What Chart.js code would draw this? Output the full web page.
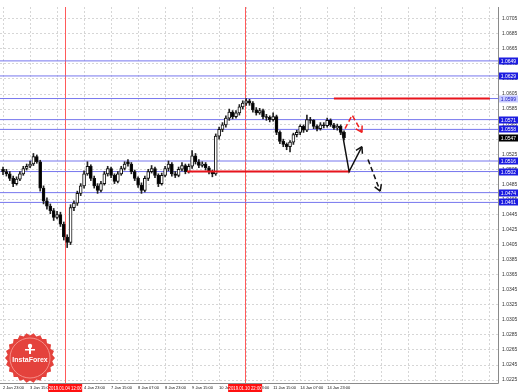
<!DOCTYPE html>
<html>
<head>
<meta charset="utf-8">
<script src="https://cdn.jsdelivr.net/npm/chart.js@4"></script>
<style>
html, body { margin: 0; padding: 0; background: #fff; }
#wrap { width: 519px; height: 392px; }
</style>
</head>
<body>
<div id="wrap"><canvas id="chart" width="519" height="392"></canvas></div>
<script>
// 2h candles, index 0 = 2 Jan 23:00
var opens = [
    1.0505, 1.0502, 1.0499, 1.0493, 1.0486, 1.0492, 1.0499, 1.0506, 1.0509, 1.0512,
    1.0522, 1.0515, 1.0480, 1.0463, 1.0456, 1.0450, 1.0441, 1.0445, 1.0432, 1.0415,
    1.0408, 1.0454, 1.0460, 1.0473, 1.0483, 1.0499, 1.0509, 1.0493, 1.0483, 1.0477,
    1.0486, 1.0499, 1.0506, 1.0497, 1.0489, 1.0499, 1.0506, 1.0515, 1.0512, 1.0502,
    1.0493, 1.0484, 1.0477, 1.0493, 1.0502, 1.0506, 1.0497, 1.0486, 1.0497, 1.0506,
    1.0512, 1.0499, 1.0497, 1.0505, 1.0510, 1.0502, 1.0509, 1.0523, 1.0515, 1.0510,
    1.0512, 1.0507, 1.0502, 1.0499, 1.0549, 1.0558, 1.0564, 1.0573, 1.0581, 1.0575,
    1.0580, 1.0588, 1.0593, 1.0596, 1.0593, 1.0584, 1.0580, 1.0583, 1.0575, 1.0574,
    1.0571, 1.0575, 1.0554, 1.0542, 1.0538, 1.0535, 1.0541, 1.0551, 1.0554, 1.0562,
    1.0557, 1.0571, 1.0570, 1.0562, 1.0559, 1.0564, 1.0563, 1.0570, 1.0564, 1.0560,
    1.0562, 1.0554
];
var highs = [
    1.0508, 1.0505, 1.0502, 1.0496, 1.0495, 1.0502, 1.0509, 1.0512, 1.0516, 1.0526,
    1.0524, 1.0517, 1.0483, 1.0467, 1.0459, 1.0453, 1.0449, 1.0448, 1.0435, 1.0418,
    1.0458, 1.0463, 1.0476, 1.0486, 1.0503, 1.0515, 1.0511, 1.0496, 1.0486, 1.0489,
    1.0502, 1.0509, 1.0508, 1.0499, 1.0502, 1.0509, 1.0515, 1.0518, 1.0514, 1.0504,
    1.0495, 1.0487, 1.0496, 1.0505, 1.0510, 1.0508, 1.0499, 1.0500, 1.0509, 1.0516,
    1.0514, 1.0502, 1.0508, 1.0514, 1.0512, 1.0512, 1.0530, 1.0526, 1.0518, 1.0515,
    1.0514, 1.0509, 1.0504, 1.0552, 1.0561, 1.0567, 1.0576, 1.0585, 1.0583, 1.0583,
    1.0591, 1.0596, 1.0599, 1.0598, 1.0595, 1.0587, 1.0586, 1.0585, 1.0578, 1.0576,
    1.0580, 1.0577, 1.0556, 1.0545, 1.0540, 1.0543, 1.0553, 1.0557, 1.0564, 1.0564,
    1.0577, 1.0574, 1.0571, 1.0564, 1.0567, 1.0567, 1.0573, 1.0572, 1.0566, 1.0565,
    1.0564, 1.0556
];
var lows = [
    1.0498, 1.0496, 1.0490, 1.0482, 1.0484, 1.0490, 1.0497, 1.0504, 1.0507, 1.0510,
    1.0513, 1.0476, 1.0459, 1.0452, 1.0446, 1.0437, 1.0439, 1.0429, 1.0411, 1.0401,
    1.0405, 1.0450, 1.0457, 1.0470, 1.0480, 1.0497, 1.0490, 1.0480, 1.0473, 1.0475,
    1.0484, 1.0496, 1.0494, 1.0486, 1.0487, 1.0497, 1.0504, 1.0509, 1.0499, 1.0490,
    1.0481, 1.0473, 1.0475, 1.0490, 1.0500, 1.0494, 1.0482, 1.0484, 1.0495, 1.0503,
    1.0496, 1.0494, 1.0495, 1.0503, 1.0499, 1.0500, 1.0506, 1.0512, 1.0507, 1.0508,
    1.0504, 1.0499, 1.0495, 1.0497, 1.0545, 1.0555, 1.0561, 1.0570, 1.0572, 1.0573,
    1.0577, 1.0585, 1.0590, 1.0590, 1.0581, 1.0577, 1.0578, 1.0572, 1.0570, 1.0568,
    1.0569, 1.0551, 1.0539, 1.0535, 1.0531, 1.0528, 1.0538, 1.0548, 1.0551, 1.0554,
    1.0555, 1.0566, 1.0559, 1.0556, 1.0557, 1.0560, 1.0561, 1.0562, 1.0558, 1.0557,
    1.0551, 1.0544
];
var closes = [
    1.0502, 1.0499, 1.0493, 1.0486, 1.0492, 1.0499, 1.0506, 1.0509, 1.0512, 1.0522,
    1.0515, 1.0480, 1.0463, 1.0456, 1.0450, 1.0441, 1.0445, 1.0432, 1.0415, 1.0408,
    1.0454, 1.0460, 1.0473, 1.0483, 1.0499, 1.0509, 1.0493, 1.0483, 1.0477, 1.0486,
    1.0499, 1.0506, 1.0497, 1.0489, 1.0499, 1.0506, 1.0512, 1.0512, 1.0502, 1.0493,
    1.0484, 1.0477, 1.0493, 1.0502, 1.0506, 1.0497, 1.0486, 1.0497, 1.0506, 1.0512,
    1.0499, 1.0497, 1.0505, 1.0510, 1.0502, 1.0509, 1.0523, 1.0515, 1.0510, 1.0512,
    1.0507, 1.0502, 1.0499, 1.0549, 1.0558, 1.0564, 1.0573, 1.0581, 1.0575, 1.0580,
    1.0588, 1.0593, 1.0596, 1.0593, 1.0584, 1.0580, 1.0583, 1.0575, 1.0574, 1.0571,
    1.0575, 1.0554, 1.0542, 1.0538, 1.0535, 1.0541, 1.0551, 1.0554, 1.0562, 1.0557,
    1.0571, 1.0570, 1.0562, 1.0559, 1.0564, 1.0563, 1.0570, 1.0564, 1.0560, 1.0562,
    1.0554, 1.0547
];

var gridBars = [0, 8, 16, 24, 32, 40, 48, 56, 64, 72, 80, 88, 96, 104, 112, 120, 128, 136, 144];
var xTickLabels = ['2 Jan 23:00', '3 Jan 15:00', '4 Jan 07:00', '4 Jan 23:00', '7 Jan 15:00',
    '8 Jan 07:00', '8 Jan 23:00', '9 Jan 15:00', '10 Jan 07:00', '10 Jan 23:00',
    '11 Jan 15:00', '14 Jan 07:00', '14 Jan 23:00'];
var yTicks = [1.0225, 1.0245, 1.0265, 1.0285, 1.0305, 1.0325, 1.0345, 1.0365, 1.0385,
    1.0405, 1.0425, 1.0445, 1.0465, 1.0485, 1.0505, 1.0525, 1.0545, 1.0565, 1.0585,
    1.0605, 1.0625, 1.0645, 1.0665, 1.0685, 1.0705];

var levels = [1.0649, 1.0629, 1.0599, 1.0571, 1.0558, 1.0516, 1.0502, 1.0474, 1.0461];
var lastPrice = 1.0547;
var markerBars = [18.4, 71.7];
var markerLabels = ['2019.01.04 12:00', '2019.01.10 22:00'];

var resistX = [98, 144.2], resistY = [1.0599, 1.0599];
var supportX = [54.5, 102.8], supportY = [1.0502, 1.0502];
var solidArrowX = [100.4, 102.5, 106.3], solidArrowY = [1.0555, 1.0502, 1.0535];
var dashArrowX = [108.1, 111.7], dashArrowY = [1.0518, 1.0476];
var redArrowX = [101.3, 103.4, 106.3], redArrowY = [1.0559, 1.0577, 1.0554];

var X_MIN = -0.9, X_MAX = 146.6;

function pts(xs, ys) {
    return xs.map(function (x, i) { return {x: x, y: ys[i]}; });
}

var bodies = closes.map(function (c, i) { return {x: i, y: [opens[i], c]}; });
var wicks = closes.map(function (c, i) { return {x: i, y: [lows[i], highs[i]]}; });
var bodyFill = closes.map(function (c, i) { return c >= opens[i] ? '#ffffff' : '#000000'; });

var datasets = [];
levels.forEach(function (p) {
    datasets.push({
        type: 'line', data: pts([X_MIN, X_MAX], [p, p]),
        borderColor: '#7676ee', borderWidth: 1, pointRadius: 0, order: 5
    });
});
datasets.push({
    type: 'bar', data: wicks, backgroundColor: '#222', barThickness: 1,
    grouped: false, order: 3
});
datasets.push({
    type: 'bar', data: bodies, backgroundColor: bodyFill, borderColor: '#111',
    borderWidth: 1, borderSkipped: false, barThickness: 3, grouped: false, order: 2
});
datasets.push({
    type: 'line', data: pts(resistX, resistY), borderColor: '#e8141c',
    borderWidth: 2, pointRadius: 0, order: 1
});
datasets.push({
    type: 'line', data: pts(supportX, supportY), borderColor: '#e8141c',
    borderWidth: 2, pointRadius: 0, order: 1
});
datasets.push({
    type: 'line', data: pts(solidArrowX, solidArrowY), borderColor: '#111',
    borderWidth: 1.5, pointRadius: 0, order: 0, arrow: true
});
datasets.push({
    type: 'line', data: pts(dashArrowX, dashArrowY), borderColor: '#111',
    borderWidth: 1.5, borderDash: [5, 3], pointRadius: 0, order: 0, arrow: true
});
datasets.push({
    type: 'line', data: pts(redArrowX, redArrowY), borderColor: '#ee2020',
    borderWidth: 1.5, borderDash: [5, 3], pointRadius: 0, order: 0, arrow: true
});

function box(ctx, x, y, w, h, fill, text, color, font) {
    ctx.fillStyle = fill;
    ctx.fillRect(x, y, w, h);
    ctx.fillStyle = color;
    ctx.font = font;
    ctx.textAlign = 'center';
    ctx.textBaseline = 'middle';
    ctx.fillText(text, x + w / 2, y + h / 2 + 0.5, w - 1);
}

var overlay = {
    id: 'overlay',
    beforeDatasetsDraw: function (chart) {
        var ctx = chart.ctx, a = chart.chartArea, xs = chart.scales.x;
        ctx.save();
        ctx.fillStyle = '#ff5a5a';
        markerBars.forEach(function (b) {
            var px = Math.round(xs.getPixelForValue(b));
            ctx.fillRect(px, a.top, 1, a.bottom - a.top);
        });
        ctx.restore();
    },
    afterDatasetsDraw: function (chart) {
        var ctx = chart.ctx;
        chart.data.datasets.forEach(function (ds, i) {
            if (!ds.arrow) return;
            var p = chart.getDatasetMeta(i).data;
            var p1 = p[p.length - 2], p2 = p[p.length - 1];
            var ang = Math.atan2(p2.y - p1.y, p2.x - p1.x);
            ctx.save();
            ctx.strokeStyle = ds.borderColor;
            ctx.lineWidth = 1.5;
            ctx.beginPath();
            [ang + 2.6, ang - 2.6].forEach(function (t) {
                ctx.moveTo(p2.x, p2.y);
                ctx.lineTo(p2.x + 7 * Math.cos(t), p2.y + 7 * Math.sin(t));
            });
            ctx.stroke();
            ctx.restore();
        });
    },
    afterDraw: function (chart) {
        var ctx = chart.ctx, a = chart.chartArea;
        var xs = chart.scales.x, ys = chart.scales.y;
        ctx.save();
        // frame
        ctx.strokeStyle = '#8a8a8a';
        ctx.lineWidth = 1;
        ctx.beginPath();
        ctx.moveTo(a.right + 0.5, a.top);
        ctx.lineTo(a.right + 0.5, a.bottom + 0.5);
        ctx.lineTo(a.left, a.bottom + 0.5);
        ctx.stroke();

        var f = '5px "Liberation Sans"';
        levels.forEach(function (p) {
            var py = ys.getPixelForValue(p);
            var light = p === 1.0599;
            box(ctx, a.right + 1, Math.round(py) - 3.5, 19, 7,
                light ? '#c6c9ff' : '#1c1ce0', p.toFixed(4), light ? '#2020c0' : '#fff', f);
        });
        box(ctx, a.right + 1, Math.round(ys.getPixelForValue(lastPrice)) - 3.5, 19, 7,
            '#000', lastPrice.toFixed(4), '#fff', f);

        markerBars.forEach(function (b, i) {
            var px = xs.getPixelForValue(b);
            box(ctx, px - 17, a.bottom + 1, 34, 8, '#ff1010', markerLabels[i], '#fff', '4.5px "Liberation Sans"');
        });

        // InstaForex badge
        var cx = 30, cy = 358, r = 25, n = 22;
        ctx.beginPath();
        for (var k = 0; k <= n * 2; k++) {
            var t = k * Math.PI / n, rr = k % 2 ? r - 2.5 : r;
            ctx.lineTo(cx + rr * Math.cos(t), cy + rr * Math.sin(t));
        }
        ctx.closePath();
        ctx.fillStyle = '#e4423c';
        ctx.fill();
        ctx.beginPath();
        ctx.arc(cx, cy, r - 5, 0, Math.PI * 2);
        ctx.strokeStyle = '#f58c86';
        ctx.lineWidth = 1;
        ctx.stroke();
        ctx.fillStyle = '#fff';
        ctx.beginPath();
        ctx.arc(cx, cy - 12, 2.2, 0, Math.PI * 2);
        ctx.fill();
        ctx.fillRect(cx - 1, cy - 10, 2, 6);
        ctx.fillRect(cx - 5, cy - 9, 10, 1.5);
        ctx.font = 'bold 7px "Liberation Sans"';
        ctx.textAlign = 'center';
        ctx.textBaseline = 'middle';
        ctx.fillText('InstaForex', cx, cy + 2);
        ctx.restore();
    }
};

new Chart(document.getElementById('chart'), {
    data: {datasets: datasets},
    plugins: [overlay],
    options: {
        responsive: false,
        animation: false,
        events: [],
        layout: {padding: 0, autoPadding: false},
        plugins: {legend: {display: false}, tooltip: {enabled: false}},
        scales: {
            x: {
                type: 'linear', min: X_MIN, max: X_MAX, offset: false,
                afterBuildTicks: function (s) {
                    s.ticks = gridBars.map(function (v) { return {value: v}; });
                },
                afterFit: function (s) { s.height = 9; },
                grid: {color: '#d6d6d6', lineWidth: 1, drawTicks: false, offset: false},
                border: {display: false, dash: [2, 2]},
                ticks: {
                    autoSkip: false, maxRotation: 0, minRotation: 0, align: 'start', padding: 2,
                    color: '#111', font: {size: 4, family: 'Liberation Sans'},
                    callback: function (v, i) { return xTickLabels[i] || ''; }
                }
            },
            y: {
                type: 'linear', position: 'right', min: 1.02211, max: 1.07206,
                afterBuildTicks: function (s) {
                    s.ticks = yTicks.map(function (v) { return {value: v}; });
                },
                afterFit: function (s) { s.width = 21; },
                grid: {color: '#d6d6d6', lineWidth: 1, drawTicks: false},
                border: {display: false, dash: [2, 2]},
                ticks: {
                    padding: 4, color: '#333', font: {size: 5, family: 'Liberation Sans'},
                    callback: function (v) { return v.toFixed(4); }
                }
            }
        }
    }
});
</script>
</body>
</html>
